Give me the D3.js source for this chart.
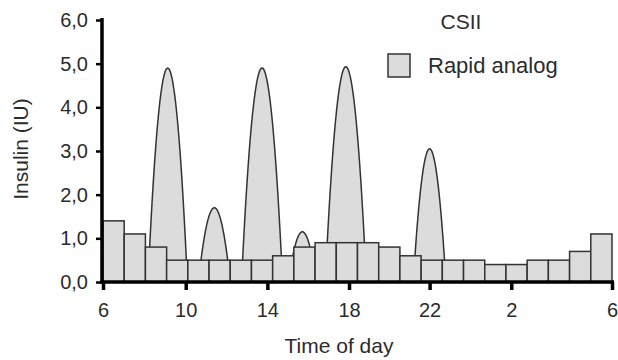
<!DOCTYPE html>
<html>
<head>
<meta charset="utf-8">
<script src="https://d3js.org/d3.v7.min.js"></script>
<style>
body { margin: 0; background: #fff; }
text { font-family: "Liberation Sans", Arial, sans-serif; fill: #2b2b2b; }
.bar, .peak { fill: #dcdcdc; stroke: #333; stroke-width: 1.5px; }
.axis path, .axis line { stroke: #000; }
</style>
</head>
<body>
<script>

// basal rate, one bar per hour from 06:00 to 06:00 the next day
var basal = [1.4, 1.1, 0.8, 0.5, 0.5, 0.5, 0.5, 0.5, 0.6, 0.8, 0.9, 0.9,
             0.9, 0.8, 0.6, 0.5, 0.5, 0.5, 0.4, 0.4, 0.5, 0.5, 0.7, 1.1];

// boluses: centre hour (6..30), peak IU, half-width in hours
var bolusHour  = [9.05, 11.25, 13.5, 15.4, 17.45, 21.4];
var bolusPeak  = [4.9, 1.7, 4.9, 1.15, 4.93, 3.05];
var bolusWidth = [0.93, 0.75, 0.97, 0.65, 0.97, 0.77];

// ticks as they sit in the original figure
var tickHours  = [6, 9.9, 13.75, 17.6, 21.4, 25.25, 30];
var tickLabels = ["6", "10", "14", "18", "22", "2", "6"];
var yTicks = [0, 1, 2, 3, 4, 5, 6];

var width = 618, height = 360;

var svg = d3.select('body').append('svg')
  .attr('width', width)
  .attr('height', height);

var x = d3.scaleLinear().domain([6, 30]).range([103, 612]);
var y = d3.scaleLinear().domain([0, 6]).range([282, 20]);

// bolus curves (behind the bars)
var line = d3.line()
  .x(function(d) { return x(d[0]); })
  .y(function(d) { return y(d[1]); });

bolusHour.forEach(function(c, i) {
  var w = bolusWidth[i], h = bolusPeak[i];
  var pts = d3.range(0, 61).map(function(k) {
    var t = -1 + k / 30;
    return [c + t * w, h * (1 - t * t)];
  });
  svg.append('path')
    .attr('class', 'peak')
    .attr('d', line(pts) + 'Z');
});

// basal bars
svg.selectAll('rect.bar')
  .data(basal)
  .enter().append('rect')
    .attr('class', 'bar')
    .attr('x', function(d, i) { return x(6 + i); })
    .attr('width', function(d, i) { return x(7 + i) - x(6 + i); })
    .attr('y', function(d) { return y(d); })
    .attr('height', function(d) { return y(0) - y(d); });

// axes
var yAxis = svg.append('g')
  .attr('class', 'axis')
  .attr('transform', 'translate(102,0)')
  .call(d3.axisLeft(y)
    .tickValues(yTicks)
    .tickSize(6)
    .tickSizeOuter(0)
    .tickPadding(8)
    .tickFormat(function(d) { return d3.format('.1f')(d).replace('.', ','); }));
yAxis.select('.domain').attr('stroke-width', 3.5).attr('d', 'M0,18V284');
yAxis.selectAll('.tick line').attr('stroke-width', 2.5);
yAxis.selectAll('text').style('font-size', '20px');

var xAxis = svg.append('g')
  .attr('class', 'axis')
  .attr('transform', 'translate(0,282)')
  .call(d3.axisBottom(x)
    .tickValues(tickHours)
    .tickSize(8)
    .tickSizeOuter(0)
    .tickPadding(13)
    .tickFormat(function(d, i) { return tickLabels[i]; }));
xAxis.select('.domain').attr('stroke-width', 3.5).attr('d', 'M100,0H614');
xAxis.selectAll('.tick line').attr('stroke-width', 3.5);
xAxis.selectAll('text').style('font-size', '20px');

// titles
svg.append('text')
  .attr('x', 339).attr('y', 353)
  .attr('text-anchor', 'middle')
  .style('font-size', '21px')
  .text('Time of day');

svg.append('text')
  .attr('transform', 'translate(28,149) rotate(-90)')
  .attr('text-anchor', 'middle')
  .style('font-size', '21px')
  .text('Insulin (IU)');

svg.append('text')
  .attr('x', 461).attr('y', 29)
  .attr('text-anchor', 'middle')
  .style('font-size', '21px')
  .text('CSII');

// legend
svg.append('rect')
  .attr('class', 'bar')
  .attr('x', 388).attr('y', 54)
  .attr('width', 22).attr('height', 23);

svg.append('text')
  .attr('x', 428).attr('y', 73)
  .style('font-size', '22px')
  .text('Rapid analog');

</script>
</body>
</html>
